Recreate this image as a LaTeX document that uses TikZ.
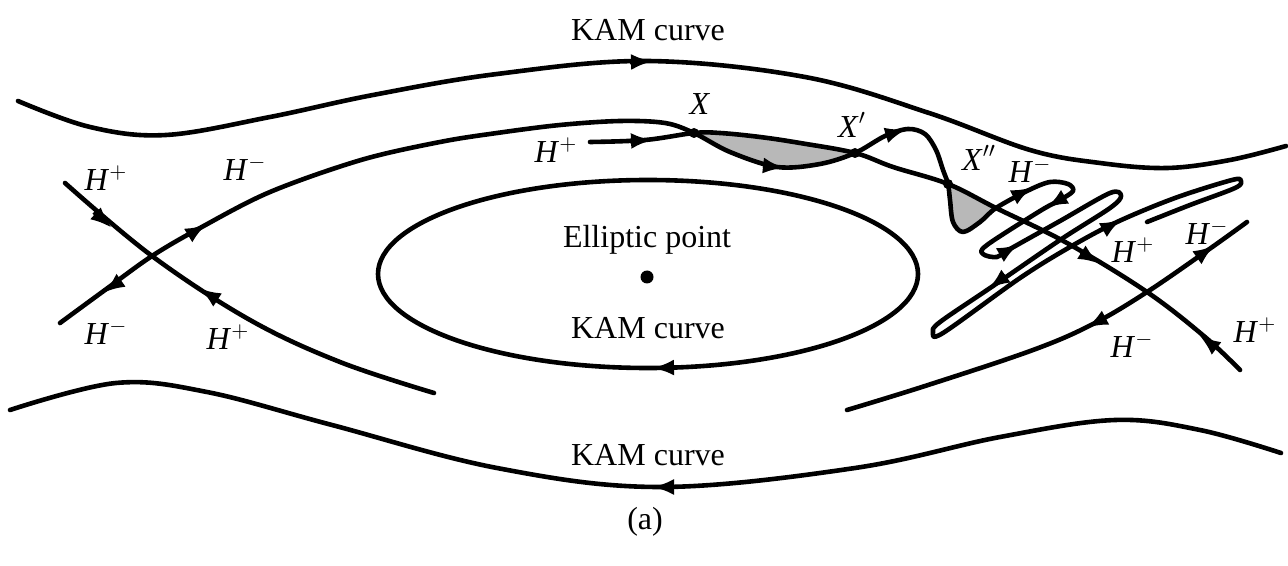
\documentclass[tikz,border=0pt]{standalone}
\usepackage{fontspec}
\setmainfont{Liberation Serif}
\usetikzlibrary{arrows.meta}
\newcommand{\Hplus}{\textit{H}$^{+}$}
\newcommand{\Hminus}{\textit{H}$^{-}$}
\begin{document}
\begin{tikzpicture}[x=0.5pt,y=-0.5pt,
  curve/.style={line width=2.3pt, line join=round, line cap=round},
  tipa/.style={line width=2.3pt, -{Latex[length=11pt,width=8pt]}},
  lbl/.style={font=\fontsize{16}{19}\selectfont, inner sep=0pt},
  lobe/.style={fill=black!28},
  xdot/.style={circle, fill=black, inner sep=0pt, minimum size=5pt},
]
\useasboundingbox (0,0) rectangle (1288,566);

% key points
\coordinate (X) at (694,133);
\coordinate (Xp) at (855,153);
\coordinate (Xpp) at (948,184);
\coordinate (L) at (152,256);
\coordinate (R) at (1147,292);

% shaded lobes
\fill[lobe] plot[smooth,tension=0.6] coordinates {(X) (730,152) (777,167) (820,164) (Xp)}
  -- plot[smooth,tension=0.6] coordinates {(Xp) (800,143) (760,137) (720,133) (X)} -- cycle;
\fill[lobe] plot[smooth,tension=0.6] coordinates {(Xpp) (950,205) (954,224) (963,232) (980,222) (996,208)} -- (Xpp) -- cycle;

% KAM curves
\draw[curve] plot[smooth,tension=0.6] coordinates {(18,101) (90,127) (166,135) (270,117) (373,95) (497,74) (647,61) (805,77) (929,113) (1030,150) (1100,163) (1167,168) (1230,160) (1286,146)};
\draw[curve] plot[smooth,tension=0.6] coordinates {(1281,453) (1200,430) (1115,420) (1000,437) (855,468) (660,487) (497,468) (332,425) (207,392) (116,383) (10,410)};
\draw[curve] (648,274) ellipse [x radius=270, y radius=94];

% left hyperbolic point: stable manifold
\draw[curve] plot[smooth,tension=0.6] coordinates {(65,183) (L) (250,320) (340,362) (434,393)};

% unstable manifold of left point (through X, X', X'' into the tangle)
\draw[curve] plot[smooth,tension=0.55] coordinates {(60,323) (105,290) (L) (200,228) (270,192) (361,160) (440,142) (497,133) (560,125) (620,121) (665,123) (X) (730,152) (777,167) (820,164) (Xp) (885,136) (908,129) (925,134) (936,150) (943,170) (Xpp) (950,200) (953,222) (963,232) (980,222) (996,208) (1027,191) (1050,182) (1068,184) (1073,191) (1060,200) (1040,211) (987,245) (983,254) (997,257) (1010,249) (1060,221) (1110,193) (1121,196) (1110,208) (1060,240) (993,286) (940,322) (933,332) (943,333) (1020,278) (1070,247) (1117,222) (1175,198) (1232,180) (1241,181) (1235,188) (1190,205) (1147,222)};

% stable manifold of right point
\draw[curve] plot[smooth,tension=0.6] coordinates {(590,142) (645,140) (X) (720,133) (760,137) (800,143) (Xp) (893,167) (Xpp) (996,208) (1067,243) (R) (1205,337) (1240,370)};

% unstable manifold of right point
\draw[curve] plot[smooth,tension=0.6] coordinates {(847,410) (925,386) (1033,350) (1093,324) (R) (1208,250) (1247,222)};

% intersection dots
\node[xdot] (dX) at (X) {};
\node[xdot] (dXp) at (Xp) {};
\node[xdot] (dXpp) at (Xpp) {};

% arrowheads
\draw[tipa] (630,62) -- (653,61.3);
\draw[tipa] (676,367.5) -- (652,368);
\draw[tipa] (676,487) -- (652,487);
\draw[tipa] (94,212) -- (112,228);
\draw[tipa] (216,299) -- (199,288);
\draw[tipa] (120,281) -- (103,293);
\draw[tipa] (189,235) -- (207,224);
\draw[tipa] (630,141) -- (653,140);
\draw[tipa] (763,165.5) -- (785,168);
\draw[tipa] (887,135) -- (907,129);
\draw[tipa] (1014,197) -- (1033,187);
\draw[tipa] (1063,198) -- (1046,208);
\draw[tipa] (1000,255) -- (1019,244);
\draw[tipa] (1006,276) -- (988,289);
\draw[tipa] (1103,230) -- (1122,219);
\draw[tipa] (1081,252) -- (1100,264);
\draw[tipa] (1216,348) -- (1199,335);
\draw[tipa] (1103,319) -- (1086,328);
\draw[tipa] (1198,257) -- (1215,245);

% texts
\node[lbl] (kam1) at (648,30) {KAM curve};
\node[lbl] (ell) at (647,240) {Elliptic point};
\node[circle, fill=black, inner sep=0pt, minimum size=6.5pt] (ep) at (647,277) {};
\node[lbl] (kam2) at (648,328) {KAM curve};
\node[lbl] (kam3) at (648,455) {KAM curve};
\node[lbl] (cap) at (645,522) {(a)};

\node[lbl] (hpL1) at (106,178) {\Hplus};
\node[lbl] (hmL1) at (245,168) {\Hminus};
\node[lbl] (hmL2) at (106,332) {\Hminus};
\node[lbl] (hpL2) at (228,337) {\Hplus};
\node[lbl] (hpX) at (556,150) {\Hplus};
\node[lbl] (lX) at (700,104) {\textit{X}};
\node[lbl] (lXp) at (852,125) {\textit{X}$'$};
\node[lbl] (lXpp) at (979,158) {\textit{X}$''$};
\node[lbl] (hmT) at (1030,170) {\Hminus};
\node[lbl] (hpR1) at (1133,250) {\Hplus};
\node[lbl] (hmR1) at (1207,232) {\Hminus};
\node[lbl] (hmR2) at (1132,345) {\Hminus};
\node[lbl] (hpR2) at (1255,330) {\Hplus};
\end{tikzpicture}
\end{document}
